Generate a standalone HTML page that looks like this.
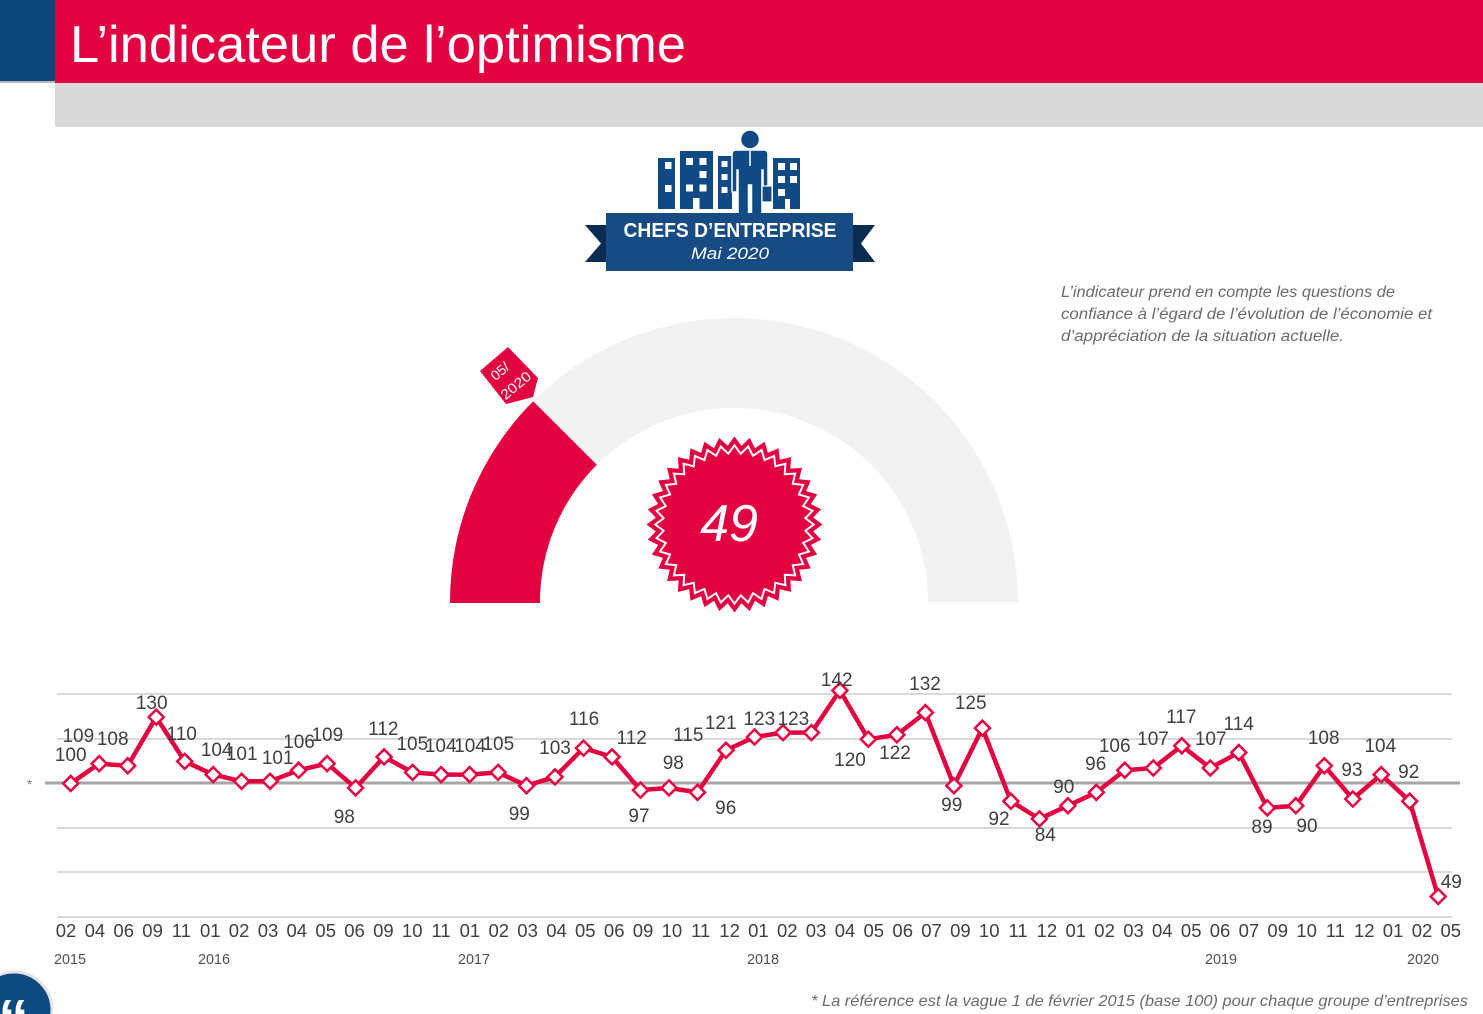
<!DOCTYPE html>
<html><head><meta charset="utf-8"><title>L'indicateur de l'optimisme</title>
<style>
html,body{margin:0;padding:0;background:#fff;}
body{width:1483px;height:1014px;overflow:hidden;}
svg{display:block;}
text{font-family:"Liberation Sans",sans-serif;}
</style></head>
<body>
<svg width="1483" height="1014" viewBox="0 0 1483 1014" xmlns="http://www.w3.org/2000/svg">
<rect x="0" y="0" width="1483" height="1014" fill="#fff"/>
<!-- Header -->
<rect x="0" y="0" width="56" height="81" fill="#0c4679"/>
<rect x="0" y="81" width="56" height="2" fill="#b8b8b8"/>
<rect x="55" y="0" width="1428" height="83" fill="#e30040"/>
<rect x="55" y="83" width="1428" height="44" fill="#d9d9d9"/>
<text x="70" y="62" font-size="52" fill="#fff" textLength="616" lengthAdjust="spacingAndGlyphs">L’indicateur de l’optimisme</text>

<!-- Icon buildings -->
<g fill="#0f4a85">
<rect x="658" y="158" width="17" height="51"/>
<rect x="680" y="151" width="33" height="58"/>
<rect x="718" y="156" width="14" height="53"/>
<rect x="773" y="158" width="27" height="51"/>
</g>
<g fill="#fff">
<rect x="665" y="162" width="6.5" height="7"/><rect x="665" y="185" width="6.5" height="7"/>
<rect x="686" y="158" width="7" height="7"/><rect x="699.5" y="158" width="7" height="7"/>
<rect x="699.5" y="171" width="7" height="7"/>
<rect x="686" y="184.5" width="7" height="7"/><rect x="699.5" y="184.5" width="7" height="7"/>
<rect x="693" y="198" width="6.5" height="11"/>
<rect x="721.5" y="161" width="6" height="6"/><rect x="721.5" y="174" width="6" height="6"/><rect x="721.5" y="187" width="6" height="6"/>
<rect x="778" y="163" width="7" height="7"/><rect x="790" y="163" width="7" height="7"/>
<rect x="778" y="176" width="7" height="7"/><rect x="790" y="176" width="7" height="7"/>
<rect x="778" y="189" width="7" height="7"/>
<rect x="785" y="199" width="5" height="10"/>
</g>
<!-- person -->
<circle cx="750" cy="139.5" r="9.5" fill="#0f4a85" stroke="#fff" stroke-width="1.5"/>
<path d="M736 150 L764 150 Q768 150 768 154 L768 192 L763 192 L763 170 L762 170 L762 215 L751.5 215 L751.5 185 L748.5 185 L748.5 215 L738 215 L738 170 L737 170 L737 192 L732 192 L732 154 Q732 150 736 150 Z" fill="#0f4a85" stroke="#fff" stroke-width="1.5"/>
<line x1="750" y1="151" x2="750" y2="166" stroke="#fff" stroke-width="1.5"/>
<rect x="762" y="186" width="10" height="16" fill="#0f4a85" stroke="#fff" stroke-width="1.2"/>

<!-- Ribbon -->
<polygon points="585,225 610,225 610,262 585,262 601,243.5" fill="#0a2c52"/>
<polygon points="875,225 850,225 850,262 875,262 861,243.5" fill="#0a2c52"/>
<rect x="606" y="213" width="247" height="58" fill="#164b84"/>
<text x="730" y="237" font-size="20" font-weight="bold" fill="#fff" text-anchor="middle" textLength="213" lengthAdjust="spacingAndGlyphs">CHEFS D’ENTREPRISE</text>
<text x="730" y="259" font-size="17" font-style="italic" fill="#fff" text-anchor="middle" textLength="78" lengthAdjust="spacingAndGlyphs">Mai 2020</text>

<!-- Right text -->
<g font-size="15.5" font-style="italic" fill="#6b6b6b">
<text x="1061" y="297" textLength="334" lengthAdjust="spacingAndGlyphs">L’indicateur prend en compte les questions de</text>
<text x="1061" y="319" textLength="371" lengthAdjust="spacingAndGlyphs">confiance à l’égard de l’évolution de l’économie et</text>
<text x="1061" y="341" textLength="283" lengthAdjust="spacingAndGlyphs">d’appréciation de la situation actuelle.</text>
</g>

<!-- Gauge -->
<path d="M450 602 A284 284 0 0 1 1018 602 L928 602 A194 194 0 0 0 540 602 Z" fill="#f2f2f2"/>
<path d="M450 603 A284 284 0 0 1 533.2 401.2 L596.8 464.8 A194 194 0 0 0 540 603 Z" fill="#e30040"/>

<!-- Tag -->
<polygon points="480,371 508,347 538,378 533,397 506,404" fill="#e30040"/>
<g transform="rotate(-40 510 377)" fill="#fff" font-size="14" text-anchor="middle">
<text x="506" y="371">05/</text>
<text x="509" y="392" textLength="35" lengthAdjust="spacingAndGlyphs">2020</text>
</g>

<!-- Starburst -->
<g transform="translate(734.5 524.5)">
<path d="M0,-88 L6.89,-78.70 L15.28,-86.66 L20.45,-76.31 L30.10,-82.69 L33.39,-71.60 L44.0,-76.21 L45.31,-64.71 L56.57,-67.41 L55.86,-55.86 L67.41,-56.57 L64.72,-45.31 L76.21,-44.0 L71.60,-33.39 L82.69,-30.10 L76.31,-20.45 L86.66,-15.28 L78.70,-6.89 L88,0 L78.70,6.89 L86.66,15.28 L76.31,20.45 L82.69,30.10 L71.60,33.39 L76.21,44.0 L64.72,45.31 L67.41,56.57 L55.86,55.86 L56.57,67.41 L45.31,64.72 L44.0,76.21 L33.39,71.60 L30.10,82.69 L20.45,76.31 L15.28,86.66 L6.89,78.70 L0,88 L-6.89,78.70 L-15.28,86.66 L-20.45,76.31 L-30.10,82.69 L-33.39,71.60 L-44.0,76.21 L-45.31,64.72 L-56.57,67.41 L-55.86,55.86 L-67.41,56.57 L-64.72,45.31 L-76.21,44.0 L-71.60,33.39 L-82.69,30.10 L-76.31,20.45 L-86.66,15.28 L-78.70,6.89 L-88,0 L-78.70,-6.89 L-86.66,-15.28 L-76.31,-20.45 L-82.69,-30.10 L-71.60,-33.39 L-76.21,-44.0 L-64.72,-45.31 L-67.41,-56.57 L-55.86,-55.86 L-56.57,-67.41 L-45.31,-64.72 L-44.0,-76.21 L-33.39,-71.60 L-30.10,-82.69 L-20.45,-76.31 L-15.28,-86.66 L-6.89,-78.70 Z" fill="#e30040"/>
<path transform="scale(0.9)" d="M0,-88 L6.89,-78.70 L15.28,-86.66 L20.45,-76.31 L30.10,-82.69 L33.39,-71.60 L44.0,-76.21 L45.31,-64.71 L56.57,-67.41 L55.86,-55.86 L67.41,-56.57 L64.72,-45.31 L76.21,-44.0 L71.60,-33.39 L82.69,-30.10 L76.31,-20.45 L86.66,-15.28 L78.70,-6.89 L88,0 L78.70,6.89 L86.66,15.28 L76.31,20.45 L82.69,30.10 L71.60,33.39 L76.21,44.0 L64.72,45.31 L67.41,56.57 L55.86,55.86 L56.57,67.41 L45.31,64.72 L44.0,76.21 L33.39,71.60 L30.10,82.69 L20.45,76.31 L15.28,86.66 L6.89,78.70 L0,88 L-6.89,78.70 L-15.28,86.66 L-20.45,76.31 L-30.10,82.69 L-33.39,71.60 L-44.0,76.21 L-45.31,64.72 L-56.57,67.41 L-55.86,55.86 L-67.41,56.57 L-64.72,45.31 L-76.21,44.0 L-71.60,33.39 L-82.69,30.10 L-76.31,20.45 L-86.66,15.28 L-78.70,6.89 L-88,0 L-78.70,-6.89 L-86.66,-15.28 L-76.31,-20.45 L-82.69,-30.10 L-71.60,-33.39 L-76.21,-44.0 L-64.72,-45.31 L-67.41,-56.57 L-55.86,-55.86 L-56.57,-67.41 L-45.31,-64.72 L-44.0,-76.21 L-33.39,-71.60 L-30.10,-82.69 L-20.45,-76.31 L-15.28,-86.66 L-6.89,-78.70 Z" fill="none" stroke="#fff" stroke-width="2.2"/>
</g>
<text x="729" y="541" font-size="52" font-style="italic" fill="#fff" text-anchor="middle">49</text>

<!-- Chart grid -->
<g stroke="#d9d9d9" stroke-width="2">
<line x1="57" y1="694" x2="1452" y2="694"/>
<line x1="57" y1="739" x2="1452" y2="739"/>
<line x1="57" y1="828" x2="1452" y2="828"/>
<line x1="57" y1="872" x2="1452" y2="872"/>
<line x1="57" y1="917" x2="1452" y2="917"/>
</g>
<line x1="45" y1="783" x2="1460" y2="783" stroke="#a6a6a6" stroke-width="3"/>
<text x="29" y="789" font-size="14" font-style="italic" fill="#7f7f7f" text-anchor="middle">*</text>

<!-- Series -->
<polyline fill="none" stroke="#e30040" stroke-width="4.5" stroke-linejoin="round" points="70.7,783.5 99.2,763.6 127.7,765.8 156.2,717.1 184.7,761.4 213.2,774.6 241.6,781.3 270.1,781.3 298.6,770.2 327.1,763.6 355.6,787.9 384.1,756.9 412.6,772.4 441.1,774.6 469.6,774.6 498.1,772.4 526.5,785.7 555.0,776.9 583.5,748.1 612.0,756.9 640.5,790.1 669.0,787.9 697.5,792.4 726.0,750.3 754.5,737.0 783.0,732.6 811.4,732.6 839.9,690.5 868.4,739.2 896.9,734.8 925.4,712.6 953.9,785.7 982.4,728.1 1010.9,801.2 1039.4,818.9 1067.9,805.7 1096.3,792.4 1124.8,770.2 1153.3,768.0 1181.8,745.8 1210.3,768.0 1238.8,752.5 1267.3,807.9 1295.8,805.7 1324.3,765.8 1352.8,799.0 1381.2,774.6 1409.7,801.2 1438.2,896.5"/>
<path fill="#fff" stroke="#e30040" stroke-width="2.5" stroke-linejoin="miter" d="
M70.7 776.0l7.5 7.5-7.5 7.5-7.5-7.5z
M99.2 756.1l7.5 7.5-7.5 7.5-7.5-7.5z
M127.7 758.3l7.5 7.5-7.5 7.5-7.5-7.5z
M156.2 709.6l7.5 7.5-7.5 7.5-7.5-7.5z
M184.7 753.9l7.5 7.5-7.5 7.5-7.5-7.5z
M213.2 767.1l7.5 7.5-7.5 7.5-7.5-7.5z
M241.6 773.8l7.5 7.5-7.5 7.5-7.5-7.5z
M270.1 773.8l7.5 7.5-7.5 7.5-7.5-7.5z
M298.6 762.7l7.5 7.5-7.5 7.5-7.5-7.5z
M327.1 756.1l7.5 7.5-7.5 7.5-7.5-7.5z
M355.6 780.4l7.5 7.5-7.5 7.5-7.5-7.5z
M384.1 749.4l7.5 7.5-7.5 7.5-7.5-7.5z
M412.6 764.9l7.5 7.5-7.5 7.5-7.5-7.5z
M441.1 767.1l7.5 7.5-7.5 7.5-7.5-7.5z
M469.6 767.1l7.5 7.5-7.5 7.5-7.5-7.5z
M498.1 764.9l7.5 7.5-7.5 7.5-7.5-7.5z
M526.5 778.2l7.5 7.5-7.5 7.5-7.5-7.5z
M555.0 769.4l7.5 7.5-7.5 7.5-7.5-7.5z
M583.5 740.6l7.5 7.5-7.5 7.5-7.5-7.5z
M612.0 749.4l7.5 7.5-7.5 7.5-7.5-7.5z
M640.5 782.6l7.5 7.5-7.5 7.5-7.5-7.5z
M669.0 780.4l7.5 7.5-7.5 7.5-7.5-7.5z
M697.5 784.9l7.5 7.5-7.5 7.5-7.5-7.5z
M726.0 742.8l7.5 7.5-7.5 7.5-7.5-7.5z
M754.5 729.5l7.5 7.5-7.5 7.5-7.5-7.5z
M783.0 725.1l7.5 7.5-7.5 7.5-7.5-7.5z
M811.4 725.1l7.5 7.5-7.5 7.5-7.5-7.5z
M839.9 683.0l7.5 7.5-7.5 7.5-7.5-7.5z
M868.4 731.7l7.5 7.5-7.5 7.5-7.5-7.5z
M896.9 727.3l7.5 7.5-7.5 7.5-7.5-7.5z
M925.4 705.1l7.5 7.5-7.5 7.5-7.5-7.5z
M953.9 778.2l7.5 7.5-7.5 7.5-7.5-7.5z
M982.4 720.6l7.5 7.5-7.5 7.5-7.5-7.5z
M1010.9 793.7l7.5 7.5-7.5 7.5-7.5-7.5z
M1039.4 811.4l7.5 7.5-7.5 7.5-7.5-7.5z
M1067.9 798.2l7.5 7.5-7.5 7.5-7.5-7.5z
M1096.3 784.9l7.5 7.5-7.5 7.5-7.5-7.5z
M1124.8 762.7l7.5 7.5-7.5 7.5-7.5-7.5z
M1153.3 760.5l7.5 7.5-7.5 7.5-7.5-7.5z
M1181.8 738.3l7.5 7.5-7.5 7.5-7.5-7.5z
M1210.3 760.5l7.5 7.5-7.5 7.5-7.5-7.5z
M1238.8 745.0l7.5 7.5-7.5 7.5-7.5-7.5z
M1267.3 800.4l7.5 7.5-7.5 7.5-7.5-7.5z
M1295.8 798.2l7.5 7.5-7.5 7.5-7.5-7.5z
M1324.3 758.3l7.5 7.5-7.5 7.5-7.5-7.5z
M1352.8 791.5l7.5 7.5-7.5 7.5-7.5-7.5z
M1381.2 767.1l7.5 7.5-7.5 7.5-7.5-7.5z
M1409.7 793.7l7.5 7.5-7.5 7.5-7.5-7.5z
M1438.2 889.0l7.5 7.5-7.5 7.5-7.5-7.5z"/>

<!-- Data labels -->
<g font-size="19" fill="#404040" text-anchor="middle">
<text x="70.7" y="761">100</text>
<text x="78.3" y="742">109</text>
<text x="112.7" y="745">108</text>
<text x="151.7" y="709">130</text>
<text x="181.7" y="740">110</text>
<text x="216.7" y="756">104</text>
<text x="241.7" y="760">101</text>
<text x="277.7" y="764">101</text>
<text x="299" y="748">106</text>
<text x="327.3" y="741">109</text>
<text x="344.3" y="823">98</text>
<text x="383.3" y="735">112</text>
<text x="412.3" y="750">105</text>
<text x="440.7" y="752">104</text>
<text x="470" y="752">104</text>
<text x="498.3" y="750">105</text>
<text x="519.3" y="820">99</text>
<text x="555" y="754">103</text>
<text x="584" y="725">116</text>
<text x="631.7" y="744">112</text>
<text x="639" y="822">97</text>
<text x="673.3" y="769">98</text>
<text x="688.3" y="741">115</text>
<text x="725.7" y="814">96</text>
<text x="720.7" y="729">121</text>
<text x="759.3" y="725">123</text>
<text x="793.3" y="725">123</text>
<text x="836.7" y="686">142</text>
<text x="850" y="766">120</text>
<text x="925" y="690">132</text>
<text x="895" y="759">122</text>
<text x="951.7" y="811">99</text>
<text x="970.7" y="709">125</text>
<text x="999" y="825">92</text>
<text x="1045.3" y="841">84</text>
<text x="1063.7" y="793">90</text>
<text x="1095.7" y="770">96</text>
<text x="1114.7" y="752">106</text>
<text x="1153" y="745">107</text>
<text x="1181.3" y="723">117</text>
<text x="1210.7" y="745">107</text>
<text x="1238.7" y="730">114</text>
<text x="1262" y="833">89</text>
<text x="1307" y="832">90</text>
<text x="1323.7" y="744">108</text>
<text x="1352" y="776">93</text>
<text x="1380.3" y="752">104</text>
<text x="1408.7" y="778">92</text>
<text x="1451.3" y="888">49</text>
</g>

<!-- X tick labels -->
<g font-size="18.5" fill="#404040" text-anchor="middle">
<text x="66.0" y="937">02</text><text x="94.9" y="937">04</text><text x="123.7" y="937">06</text><text x="152.6" y="937">09</text><text x="181.4" y="937">11</text>
<text x="210.3" y="937">01</text><text x="239.1" y="937">02</text><text x="268.0" y="937">03</text><text x="296.8" y="937">04</text><text x="325.7" y="937">05</text><text x="354.5" y="937">06</text><text x="383.4" y="937">09</text><text x="412.2" y="937">10</text><text x="441.1" y="937">11</text>
<text x="469.9" y="937">01</text><text x="498.8" y="937">02</text><text x="527.6" y="937">03</text><text x="556.5" y="937">04</text><text x="585.3" y="937">05</text><text x="614.2" y="937">06</text><text x="643.0" y="937">09</text><text x="671.9" y="937">10</text><text x="700.7" y="937">11</text><text x="729.6" y="937">12</text>
<text x="758.4" y="937">01</text><text x="787.3" y="937">02</text><text x="816.1" y="937">03</text><text x="845.0" y="937">04</text><text x="873.8" y="937">05</text><text x="902.7" y="937">06</text><text x="931.5" y="937">07</text><text x="960.4" y="937">09</text><text x="989.2" y="937">10</text><text x="1018.1" y="937">11</text><text x="1046.9" y="937">12</text>
<text x="1075.8" y="937">01</text><text x="1104.6" y="937">02</text><text x="1133.5" y="937">03</text><text x="1162.3" y="937">04</text><text x="1191.2" y="937">05</text><text x="1220.0" y="937">06</text><text x="1248.9" y="937">07</text><text x="1277.7" y="937">09</text><text x="1306.6" y="937">10</text><text x="1335.4" y="937">11</text><text x="1364.3" y="937">12</text>
<text x="1393.1" y="937">01</text><text x="1422.0" y="937">02</text><text x="1450.8" y="937">05</text>
</g>
<!-- Years -->
<g font-size="15" fill="#505050" text-anchor="middle">
<text x="70" y="964" textLength="32" lengthAdjust="spacingAndGlyphs">2015</text>
<text x="214" y="964" textLength="32" lengthAdjust="spacingAndGlyphs">2016</text>
<text x="474" y="964" textLength="32" lengthAdjust="spacingAndGlyphs">2017</text>
<text x="763" y="964" textLength="32" lengthAdjust="spacingAndGlyphs">2018</text>
<text x="1221" y="964" textLength="32" lengthAdjust="spacingAndGlyphs">2019</text>
<text x="1423" y="964" textLength="32" lengthAdjust="spacingAndGlyphs">2020</text>
</g>

<!-- Footnote -->
<text x="811" y="1006" font-size="16" font-style="italic" fill="#6b6b6b" textLength="657" lengthAdjust="spacingAndGlyphs">* La référence est la vague 1 de février 2015 (base 100) pour chaque groupe d’entreprises</text>

<!-- Bottom-left logo -->
<circle cx="14" cy="1010" r="38" fill="#0d4a80" stroke="#e3e3e3" stroke-width="3"/>
<text x="-2" y="1043" font-family="Liberation Serif, serif" font-size="62" font-weight="bold" fill="#fff">“</text>
</svg>
</body></html>
